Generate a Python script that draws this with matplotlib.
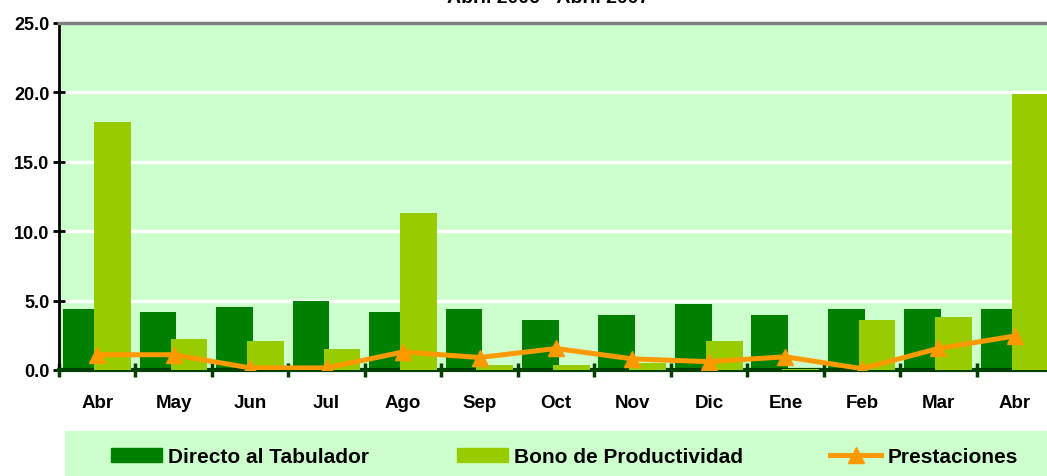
import numpy as np
import matplotlib
matplotlib.use("Agg")
import matplotlib.pyplot as plt
from matplotlib.patches import Rectangle, Patch
from matplotlib.lines import Line2D

plt.rcParams['font.family'] = ['Liberation Sans', 'DejaVu Sans']
plt.rcParams['font.weight'] = 'bold'

meses = ["Abr", "May", "Jun", "Jul", "Ago", "Sep", "Oct", "Nov", "Dic", "Ene", "Feb", "Mar", "Abr"]
directo = [4.4, 4.2, 4.55, 4.95, 4.2, 4.4, 3.6, 3.95, 4.75, 3.95, 4.4, 4.4, 4.4]
bono = [17.9, 2.25, 2.1, 1.5, 11.3, 0.35, 0.35, 0.5, 2.1, 0.1, 3.6, 3.8, 19.9]
prestaciones = [1.1, 1.1, 0.15, 0.15, 1.3, 0.9, 1.55, 0.8, 0.6, 0.95, 0.1, 1.55, 2.45]

W, H = 1047, 477
fig = plt.figure(figsize=(W / 100, H / 100), dpi=100)
# the plot area runs past the right edge of the picture, like the reference
ax = fig.add_axes([59 / W, (H - 371) / H, 994 / W, 347 / H])
ax.set_facecolor('#CCFFCC')

x = np.arange(len(meses))
ax.bar(x - 0.205, directo, width=0.48, color='#008000', zorder=2)
ax.bar(x + 0.2, bono, width=0.48, color='#99CC00', zorder=3)
ax.plot(x, prestaciones, color='#FF9900', lw=3.6, marker='^', ms=11, zorder=4)

ax.set_xlim(-0.5, 12.5)
ax.set_ylim(0, 25)
ax.set_yticks(np.arange(0, 26, 5))
ax.set_yticklabels([f"{v:.1f}" for v in np.arange(0, 26, 5)], fontsize=13, fontweight='bold')
ax.set_xticks(x)
ax.set_xticklabels(meses, fontsize=13.5, fontweight='bold')
ax.set_xticks(np.arange(-0.5, 13, 1), minor=True)
ax.tick_params(axis='x', which='major', length=0, pad=17)
ax.tick_params(axis='x', which='minor', direction='inout', length=10, width=2.5, color='#004000')
ax.tick_params(axis='y', direction='inout', length=8, width=2, pad=3)
ax.yaxis.grid(True, color='white', lw=2.5, zorder=1)
ax.set_axisbelow(True)

ax.spines['right'].set_visible(False)
ax.spines['top'].set_color('#808080')
ax.spines['top'].set_linewidth(2.5)
ax.spines['left'].set_linewidth(2)
ax.spines['bottom'].set_color('#004000')
ax.spines['bottom'].set_linewidth(3)

fig.text(548 / W, 1 - 3 / H, "Abril 2006 - Abril 2007", ha='center', va='baseline',
         fontsize=14, fontweight='bold')

# legend box
fig.patches.append(Rectangle((65 / W, 0), 982 / W, 45 / H, transform=fig.transFigure,
                             facecolor='#CCFFCC', edgecolor='none', zorder=0))
h = [Patch(color='#008000'), Patch(color='#99CC00'),
     Line2D([], [], color='#FF9900', lw=3.6, marker='^', ms=11)]
lab = ["Directo al Tabulador", "Bono de Productividad", "Prestaciones"]
fig.legend(h, lab, ncol=3, loc='center left', bbox_to_anchor=(111 / W, 19 / H),
           frameon=False, handlelength=2.45, handleheight=0.65,
           columnspacing=4.2, handletextpad=0.29, borderpad=0, borderaxespad=0,
           prop={'weight': 'bold', 'size': 15})

fig.savefig("out.png", dpi=100)
